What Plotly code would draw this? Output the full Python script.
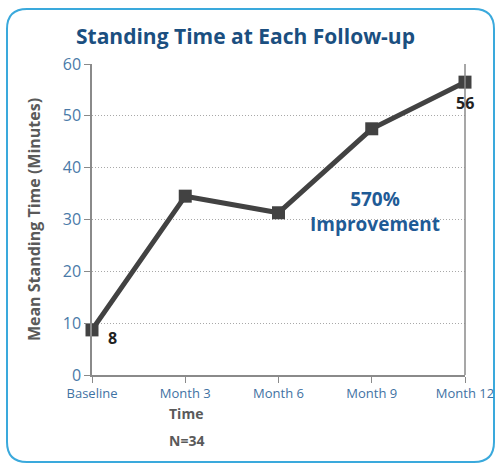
import plotly.graph_objects as go

categories = ["Baseline", "Month 3", "Month 6", "Month 9", "Month 12"]
standing_time = [8.7, 34.5, 31.3, 47.5, 56.5]
point_labels = ["8", "", "", "", "56"]
y_ticks = [0, 10, 20, 30, 40, 50, 60]

W, H = 498, 466
ML, MR, MT, MB = 92, 33, 64, 91
PW, PH = W - ML - MR, H - MT - MB

def px(x):
    return (x - ML) / PW

def py(y):
    return (H - MB - y) / PH

def rounded_rect(x0, y0, x1, y1, r):
    pts = [
        ("M", [(x0 + r, y0)]),
        ("L", [(x1 - r, y0)]),
        ("Q", [(x1, y0), (x1, y0 + r)]),
        ("L", [(x1, y1 - r)]),
        ("Q", [(x1, y1), (x1 - r, y1)]),
        ("L", [(x0 + r, y1)]),
        ("Q", [(x0, y1), (x0, y1 - r)]),
        ("L", [(x0, y0 + r)]),
        ("Q", [(x0, y0), (x0 + r, y0)]),
    ]
    s = ""
    for cmd, ps in pts:
        s += cmd + " " + " ".join(f"{px(a):.5f},{py(b):.5f}" for a, b in ps) + " "
    return s + "Z"

fig = go.Figure()
fig.add_trace(go.Scatter(
    x=list(range(len(categories))), y=standing_time,
    mode="lines+markers",
    line=dict(color="#424242", width=5),
    marker=dict(symbol="square", size=13, color="#424242"),
    cliponaxis=False, showlegend=False, hoverinfo="skip",
))

ann = []
offsets = {0: (20, 8), 4: (0, 21)}
for i, lab in enumerate(point_labels):
    if lab:
        dx, dy = offsets[i]
        ann.append(dict(x=i, y=standing_time[i], text=f"<b>{lab}</b>", showarrow=False,
                        xshift=dx, yshift=-dy, font=dict(size=16, color="#222222",
                        family="Open Sans")))
ann.append(dict(x=3.03, y=31.5, text="<b>570%<br>Improvement</b>", showarrow=False,
                font=dict(size=19, color="#1f5b96", family="Open Sans"), align="center"))
ann.append(dict(xref="paper", yref="paper", x=px(186), y=py(413), text="<b>Time</b>",
                xanchor="center", yanchor="middle",
                showarrow=False, font=dict(size=14, color="#5a5a5a", family="Open Sans")))
ann.append(dict(xref="paper", yref="paper", x=px(186), y=py(440), text="<b>N=34</b>",
                xanchor="center", yanchor="middle",
                showarrow=False, font=dict(size=14, color="#5a5a5a", family="Open Sans")))
ann.append(dict(xref="paper", yref="paper", x=px(245), y=py(36), text="<b>Standing Time at Each Follow-up</b>",
                xanchor="center", yanchor="middle",
                showarrow=False, font=dict(size=21, color="#1b4f80", family="Open Sans")))

fig.update_layout(
    width=W, height=H, autosize=False,
    margin=dict(l=ML, r=MR, t=MT, b=MB),
    paper_bgcolor="white", plot_bgcolor="white",
    font=dict(family="Open Sans"),
    annotations=ann,
    shapes=[
        dict(type="path", xref="paper", yref="paper", path=rounded_rect(7, 9, 494, 462, 20),
             line=dict(color="#3aa9dc", width=2), fillcolor="rgba(0,0,0,0)", layer="below"),
        dict(type="line", xref="paper", yref="paper", x0=1, x1=1, y0=0, y1=1,
             line=dict(color="#8a8a8a", width=1.5)),
    ],
    xaxis=dict(
        range=[0, 4], tickvals=list(range(len(categories))), ticktext=categories,
        automargin=False,
        showgrid=False, zeroline=False, showline=True, linecolor="#8a8a8a", linewidth=1.5,
        ticks="outside", ticklen=6, tickcolor="#8a8a8a",
        tickfont=dict(size=13, color="#3f72a3"),
    ),
    yaxis=dict(
        range=[0, 60], tickvals=y_ticks, automargin=False,
        showgrid=True, gridcolor="#a8a8a8", griddash="1px,2px", gridwidth=1,
        zeroline=False, showline=True, linecolor="#8a8a8a", linewidth=1.5,
        ticks="outside", ticklen=6, tickcolor="#8a8a8a",
        tickfont=dict(size=16, color="#4a7aa8"),
        title=dict(text="<b>Mean Standing Time (Minutes)</b>", font=dict(size=16, color="#5a5a5a"),
                   standoff=18),
    ),
)

fig.write_html(
    "out.html",
    config=dict(responsive=False, displayModeBar=False),
    post_script="document.body.style.margin='0';document.body.style.overflow='hidden';",
)
